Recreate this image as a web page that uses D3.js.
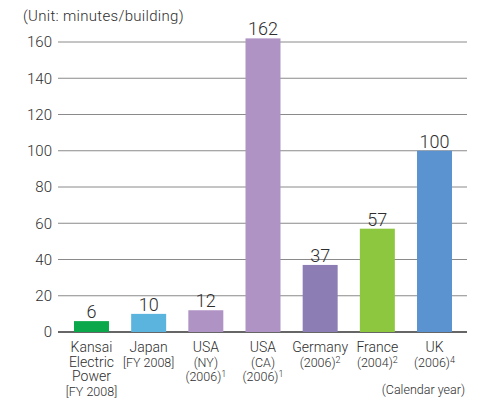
<!DOCTYPE html>
<html>
<head>
<meta charset="utf-8">
<script src="https://cdn.jsdelivr.net/npm/d3@7"></script>
<style>
  body { margin: 0; background: #fff; }
  text { font-family: Roboto, "DejaVu Sans", sans-serif; font-weight: 300; fill: #2e2e2e; }
</style>
</head>
<body>
<div id="chart"></div>
<script>
// chart values
const categories = ["Kansai", "Japan", "USA (NY)", "USA (CA)", "Germany", "France", "UK"];
const values = [6, 10, 12, 162, 37, 57, 100];
const colors = ["#0aa84a", "#5ab4dd", "#b093c5", "#b093c5", "#8c7eb5", "#8dc63f", "#5b93d0"];
const yTicks = [0, 20, 40, 60, 80, 100, 120, 140, 160];
// label lines: [text, superscript, small]
const labelLines = [
    [["Kansai"], ["Electric"], ["Power"], ["[FY 2008]", null, true]],
    [["Japan"], ["[FY 2008]", null, true]],
    [["USA"], ["(NY)", null, true], ["(2006)", "1", true]],
    [["USA"], ["(CA)", null, true], ["(2006)", "1", true]],
    [["Germany"], ["(2006)", "2", true]],
    [["France"], ["(2004)", "2", true]],
    [["UK"], ["(2006)", "4", true]]
];

const width = 492, height = 398;

const svg = d3.select('#chart')
    .append('svg')
    .attr('width', width)
    .attr('height', height);

const x = d3.scaleBand()
    .domain(categories)
    .range([62.9, 463.1])
    .paddingInner(0.388)
    .paddingOuter(0.194);

const y = d3.scaleLinear()
    .domain([0, 160])
    .range([332, 42]);

// gridlines
svg.append('g')
    .selectAll('line')
    .data(yTicks)
    .enter()
        .append('line')
        .attr('x1', 58)
        .attr('x2', 467)
        .attr('y1', d => y(d))
        .attr('y2', d => y(d))
        .attr('stroke', d => d === 0 ? '#333' : '#8a8a8a')
        .attr('stroke-width', d => d === 0 ? 1.5 : 1);

// y tick labels
svg.append('g')
    .selectAll('text')
    .data(yTicks)
    .enter()
        .append('text')
        .attr('x', 52)
        .attr('y', d => y(d))
        .attr('dy', '0.35em')
        .attr('text-anchor', 'end')
        .style('font-size', '15px')
        .text(d => d);

// bars
svg.append('g')
    .selectAll('rect')
    .data(values)
    .enter()
        .append('rect')
        .attr('x', (d, i) => x(categories[i]))
        .attr('width', x.bandwidth())
        .attr('y', d => y(d))
        .attr('height', d => y(0) - y(d))
        .attr('fill', (d, i) => colors[i]);

// value labels
svg.append('g')
    .selectAll('text')
    .data(values)
    .enter()
        .append('text')
        .attr('x', (d, i) => x(categories[i]) + x.bandwidth() / 2)
        .attr('y', d => y(d) - 3)
        .attr('text-anchor', 'middle')
        .style('font-size', '18px')
        .text(d => d);

// category labels
labelLines.forEach((lines, i) => {
    const cx = x(categories[i]) + x.bandwidth() / 2;
    lines.forEach((ln, j) => {
        const t = svg.append('text')
            .attr('x', cx)
            .attr('y', 352 + j * 14.5)
            .attr('text-anchor', 'middle')
            .style('font-size', ln[2] ? '12.5px' : '14px');
        t.append('tspan').text(ln[0]);
        if (ln[1]) {
            t.append('tspan')
                .attr('dy', '-0.4em')
                .style('font-size', '9px')
                .text(ln[1]);
        }
    });
});

svg.append('text')
    .attr('x', 23)
    .attr('y', 21)
    .style('font-size', '15px')
    .style('letter-spacing', '0.3px')
    .text('(Unit: minutes/building)');

svg.append('text')
    .attr('x', 465)
    .attr('y', 394)
    .attr('text-anchor', 'end')
    .style('font-size', '12.5px')
    .text('(Calendar year)');
</script>
</body>
</html>
